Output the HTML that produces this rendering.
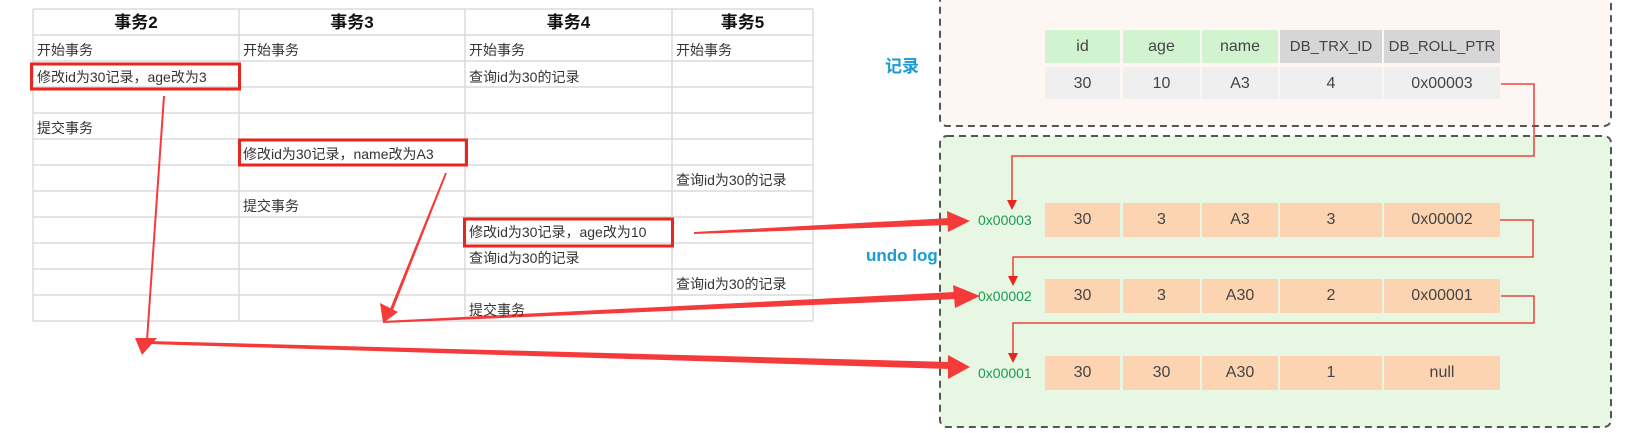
<!DOCTYPE html>
<html><head><meta charset="utf-8"><style>
html,body{margin:0;padding:0;background:#fff;width:1632px;height:433px;overflow:hidden;position:relative;font-family:"Liberation Sans","Noto Sans CJK SC",sans-serif}
.t{position:absolute;font-size:14px;color:#333;white-space:nowrap}
.h{position:absolute;font-size:17px;font-weight:bold;color:#111;text-align:center;top:9px;height:26px;line-height:27px}
.c{position:absolute;text-align:center;font-size:16px;color:#444;line-height:33px}
.addr{position:absolute;font-size:14px;color:#1a9a50}
</style></head><body>
<svg width="1632" height="433" style="position:absolute;left:0;top:0">
<g stroke="#dcdcdc" stroke-width="1.5" fill="none">
<line x1="33" y1="9" x2="813" y2="9"/>
<line x1="33" y1="35" x2="813" y2="35"/>
<line x1="33" y1="61" x2="813" y2="61"/>
<line x1="33" y1="87" x2="813" y2="87"/>
<line x1="33" y1="113" x2="813" y2="113"/>
<line x1="33" y1="139" x2="813" y2="139"/>
<line x1="33" y1="165" x2="813" y2="165"/>
<line x1="33" y1="191" x2="813" y2="191"/>
<line x1="33" y1="217" x2="813" y2="217"/>
<line x1="33" y1="243" x2="813" y2="243"/>
<line x1="33" y1="269" x2="813" y2="269"/>
<line x1="33" y1="295" x2="813" y2="295"/>
<line x1="33" y1="321" x2="813" y2="321"/>
<line x1="33" y1="9" x2="33" y2="321"/>
<line x1="239" y1="9" x2="239" y2="321"/>
<line x1="465" y1="9" x2="465" y2="321"/>
<line x1="672" y1="9" x2="672" y2="321"/>
<line x1="813" y1="9" x2="813" y2="321"/>
</g>
<g stroke="#e8261f" stroke-width="3" fill="none">
<rect x="31.5" y="64" width="208" height="25"/>
<rect x="239.5" y="140" width="227" height="25"/>
<rect x="464.5" y="219" width="208" height="27"/>
</g>
<rect x="940" y="-20" width="671" height="146" rx="7" fill="#fdf6f3" stroke="#555" stroke-width="2" stroke-dasharray="7,5"/>
<rect x="940" y="136" width="671" height="291" rx="7" fill="#e7f7e4" stroke="#555" stroke-width="2" stroke-dasharray="7,5"/>
<g fill="#d2f3d0"><rect x="1045" y="30" width="75" height="33"/><rect x="1123" y="30" width="77" height="33"/><rect x="1202" y="30" width="76" height="33"/></g>
<g fill="#d6d6d6"><rect x="1280" y="30" width="102" height="33"/><rect x="1384" y="30" width="116" height="33"/></g>
<g fill="#efefef"><rect x="1045" y="67" width="75" height="32"/><rect x="1123" y="67" width="77" height="32"/><rect x="1202" y="67" width="76" height="32"/><rect x="1280" y="67" width="102" height="32"/><rect x="1384" y="67" width="116" height="32"/></g>
<g fill="#fdd4b1">
<rect x="1045" y="203" width="75" height="34"/><rect x="1123" y="203" width="77" height="34"/><rect x="1202" y="203" width="76" height="34"/><rect x="1280" y="203" width="102" height="34"/><rect x="1384" y="203" width="116" height="34"/>
<rect x="1045" y="279" width="75" height="34"/><rect x="1123" y="279" width="77" height="34"/><rect x="1202" y="279" width="76" height="34"/><rect x="1280" y="279" width="102" height="34"/><rect x="1384" y="279" width="116" height="34"/>
<rect x="1045" y="356" width="75" height="34"/><rect x="1123" y="356" width="77" height="34"/><rect x="1202" y="356" width="76" height="34"/><rect x="1280" y="356" width="102" height="34"/><rect x="1384" y="356" width="116" height="34"/>
</g>
<g stroke="#e8261f" stroke-width="1.3" fill="none">
<polyline points="1501,84 1534,84 1534,156 1012,156 1012,202"/>
<polyline points="1500,220 1533,220 1533,257 1013,257 1013,278"/>
<polyline points="1501,296 1534,296 1534,323 1013,323 1013,355"/>
</g>
<g fill="#e8261f">
<polygon points="1007,200 1017,200 1012,210"/>
<polygon points="1008,276 1018,276 1013,286"/>
<polygon points="1008,353 1018,353 1013,363"/>
</g>
<g fill="#f53a3a">
<polygon points="163,96 165,96 148,340 146,340"/>
<polygon points="135,338 157,338 142,355"/>
<polygon points="148,341 950,362 950,369 148,344"/>
<polygon points="948,355 970,367 948,379"/>
<polygon points="445,173 447,173 393,310 390,309"/>
<polygon points="380,303 398,312 383,323"/>
<polygon points="383,321 955,292 955,299 383,323"/>
<polygon points="953,285 980,296 955,308"/>
<polygon points="694,232 950,218 950,225 694,234"/>
<polygon points="947,211 970,221 948,232"/>
</g>
</svg>
<div class="h" style="left:33px;width:206px">事务2</div>
<div class="h" style="left:239px;width:226px">事务3</div>
<div class="h" style="left:465px;width:207px">事务4</div>
<div class="h" style="left:672px;width:141px">事务5</div>
<div class="t" style="left:37px;top:40px">开始事务</div>
<div class="t" style="left:243px;top:40px">开始事务</div>
<div class="t" style="left:469px;top:40px">开始事务</div>
<div class="t" style="left:676px;top:40px">开始事务</div>
<div class="t" style="left:37px;top:67px">修改id为30记录，age改为3</div>
<div class="t" style="left:469px;top:67px">查询id为30的记录</div>
<div class="t" style="left:37px;top:118px">提交事务</div>
<div class="t" style="left:243px;top:144px">修改id为30记录，name改为A3</div>
<div class="t" style="left:676px;top:170px">查询id为30的记录</div>
<div class="t" style="left:243px;top:196px">提交事务</div>
<div class="t" style="left:469px;top:222px">修改id为30记录，age改为10</div>
<div class="t" style="left:469px;top:248px">查询id为30的记录</div>
<div class="t" style="left:676px;top:274px">查询id为30的记录</div>
<div class="t" style="left:469px;top:300px">提交事务</div>
<div style="position:absolute;left:885px;top:52px;font-size:17px;font-weight:bold;color:#1a9ad6">记录</div>
<div style="position:absolute;left:866px;top:246px;font-size:17px;font-weight:bold;color:#1a9ad6">undo log</div>
<div class="c" style="left:1045px;top:30px;width:75px">id</div>
<div class="c" style="left:1123px;top:30px;width:77px">age</div>
<div class="c" style="left:1202px;top:30px;width:76px">name</div>
<div class="c" style="left:1280px;top:30px;width:102px;font-size:15px">DB_TRX_ID</div>
<div class="c" style="left:1384px;top:30px;width:116px;font-size:15px">DB_ROLL_PTR</div>
<div class="c" style="left:1045px;top:67px;width:75px">30</div>
<div class="c" style="left:1123px;top:67px;width:77px">10</div>
<div class="c" style="left:1202px;top:67px;width:76px">A3</div>
<div class="c" style="left:1280px;top:67px;width:102px">4</div>
<div class="c" style="left:1384px;top:67px;width:116px">0x00003</div>
<div class="addr" style="left:978px;top:212px">0x00003</div>
<div class="c" style="left:1045px;top:203px;width:75px">30</div>
<div class="c" style="left:1123px;top:203px;width:77px">3</div>
<div class="c" style="left:1202px;top:203px;width:76px">A3</div>
<div class="c" style="left:1280px;top:203px;width:102px">3</div>
<div class="c" style="left:1384px;top:203px;width:116px">0x00002</div>
<div class="addr" style="left:978px;top:288px">0x00002</div>
<div class="c" style="left:1045px;top:279px;width:75px">30</div>
<div class="c" style="left:1123px;top:279px;width:77px">3</div>
<div class="c" style="left:1202px;top:279px;width:76px">A30</div>
<div class="c" style="left:1280px;top:279px;width:102px">2</div>
<div class="c" style="left:1384px;top:279px;width:116px">0x00001</div>
<div class="addr" style="left:978px;top:365px">0x00001</div>
<div class="c" style="left:1045px;top:356px;width:75px">30</div>
<div class="c" style="left:1123px;top:356px;width:77px">30</div>
<div class="c" style="left:1202px;top:356px;width:76px">A30</div>
<div class="c" style="left:1280px;top:356px;width:102px">1</div>
<div class="c" style="left:1384px;top:356px;width:116px">null</div>
</body></html>
